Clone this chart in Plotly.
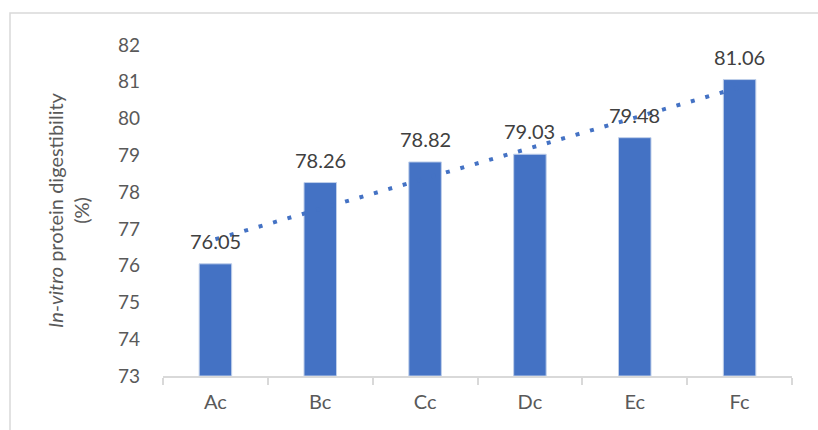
import numpy as np
import plotly.graph_objects as go

categories = ["Ac", "Bc", "Cc", "Dc", "Ec", "Fc"]
values = [76.05, 78.26, 78.82, 79.03, 79.48, 81.06]
y_ticks = [73, 74, 75, 76, 77, 78, 79, 80, 81, 82]

BLUE = "#4472C4"
GREY_TXT = "#595959"
LABEL_TXT = "#404040"
LINE = "#D9D9D9"
FONT = "Lato"

# linear trendline (least squares) through the series
xi = np.arange(1, len(values) + 1)
slope, intercept = np.polyfit(xi, values, 1)
trend = slope * xi + intercept

fig = go.Figure()
fig.add_trace(go.Bar(
    x=categories, y=[v - 73 for v in values], base=73,
    marker=dict(color=BLUE, line=dict(color="#BFCFEA", width=1)),
    width=0.31, hoverinfo="skip",
))
fig.add_trace(go.Scatter(
    x=categories, y=trend, mode="lines",
    line=dict(color=BLUE, width=4, dash="4px,11px"), hoverinfo="skip",
))

for c, v in zip(categories, values):
    fig.add_annotation(x=c, y=v, text=f"{v:.2f}", showarrow=False,
                       yanchor="bottom", yshift=9,
                       font=dict(family=FONT, size=20, color=LABEL_TXT))

W, H = 818, 430
l, r, t, b = 163, 26, 45, 54
pw, ph = W - l - r, H - t - b
# outer chart border (light grey), cropped on right and bottom
fig.add_shape(type="rect", xref="paper", yref="paper",
              x0=(10 - l) / pw, x1=(W + 20 - l) / pw,
              y0=(H - b - (H + 20)) / ph, y1=(H - b - 13) / ph,
              line=dict(color=LINE, width=1.5), layer="below")

fig.update_layout(
    width=W, height=H,
    margin=dict(l=l, r=r, t=t, b=b),
    paper_bgcolor="white", plot_bgcolor="white",
    showlegend=False,
    font=dict(family=FONT, color=GREY_TXT),
    xaxis=dict(
        type="category", showline=True, linecolor=LINE, linewidth=1.5,
        ticks="outside", tickson="boundaries", ticklen=7, tickcolor=LINE,
        tickwidth=1.5, tickfont=dict(size=20, color=GREY_TXT),
        ticklabelstandoff=7, showgrid=False, zeroline=False,
        range=[-0.5, 5.5],
    ),
    yaxis=dict(
        range=[73, 82], tickvals=y_ticks, showgrid=False, zeroline=False,
        showline=False, ticks="", tickfont=dict(size=19, color=GREY_TXT),
        ticklabelstandoff=22,
        title=dict(text="<i>In-vitro</i> protein digestibility<br>(%)",
                   font=dict(size=20, color=GREY_TXT), standoff=22),
        automargin=False,
    ),
)

fig.write_html("out.html")
